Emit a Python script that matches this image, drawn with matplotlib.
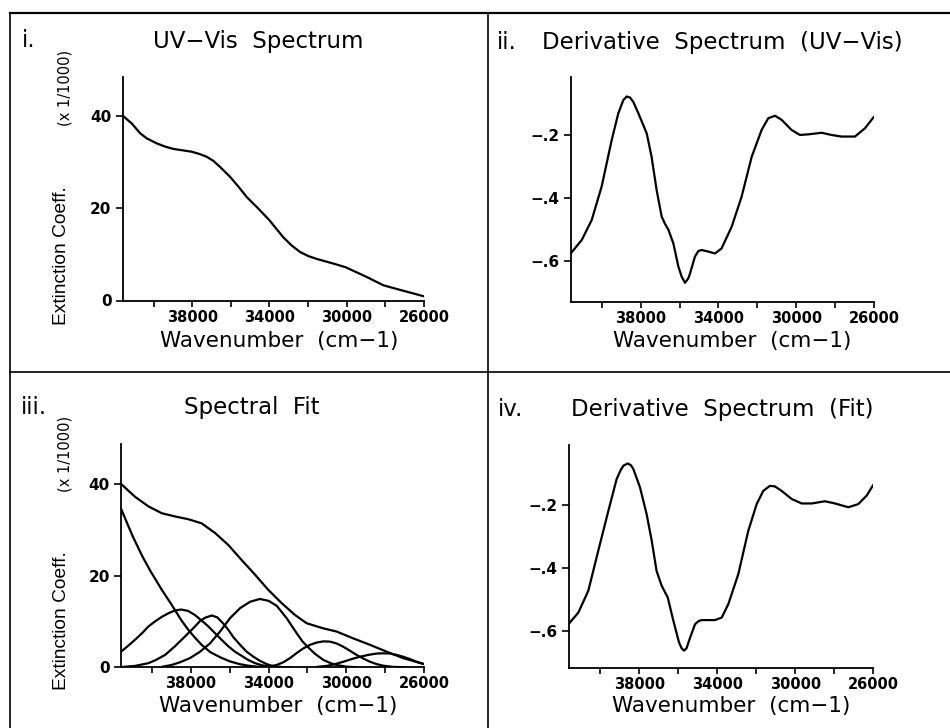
import matplotlib
matplotlib.use("Agg")
import matplotlib.pyplot as plt
from matplotlib.lines import Line2D
from matplotlib import font_manager as fm

# ---------------- data ----------------
# Panel i: UV-Vis spectrum (extinction coeff. x 1/1000)
uv_wn = [41600, 41130, 40700, 40360, 39840, 39400, 38980, 38500, 38030, 37620,
         37250, 36900, 36560, 36050, 35600, 35180, 34580, 34010, 33290, 32850,
         32420, 31980, 31560, 30700, 30060, 28970, 28110, 27240, 26000]
uv_eps = [40.0, 38.3, 36.2, 35.1, 34.0, 33.3, 32.8, 32.5, 32.2, 31.7,
          31.1, 30.2, 28.9, 26.8, 24.6, 22.4, 19.9, 17.4, 13.7, 11.9,
          10.5, 9.6, 9.0, 8.0, 7.2, 5.1, 3.3, 2.3, 0.9]

# Panel ii: derivative spectrum of UV-Vis
duv_wn = [41600, 41030, 40520, 40010, 39490, 39150, 38890, 38720, 38550, 38380,
          38120, 37690, 37440, 37180, 36920, 36750, 36580, 36320, 36060, 35890,
          35720, 35550, 35460, 35210, 35030, 34860, 34520, 34180, 33840, 33320,
          32810, 32290, 31780, 31440, 31090, 30750, 30240, 29810, 29380, 28690,
          28180, 27670, 26980, 26470, 26000]
duv_val = [-0.576, -0.533, -0.470, -0.364, -0.216, -0.131, -0.089, -0.078, -0.081, -0.095,
           -0.131, -0.195, -0.269, -0.375, -0.459, -0.482, -0.500, -0.544, -0.618, -0.650,
           -0.669, -0.655, -0.639, -0.586, -0.568, -0.565, -0.570, -0.576, -0.560, -0.491,
           -0.396, -0.269, -0.184, -0.147, -0.139, -0.152, -0.184, -0.200, -0.198, -0.193,
           -0.200, -0.205, -0.205, -0.179, -0.142]

# Panel iii: spectral fit (total) and gaussian components
fit_wn = [41600, 40880, 40190, 39500, 38820, 38140, 37450, 36760, 36080, 35390,
          34700, 34020, 33330, 32640, 32040, 31190, 30500, 29640, 28780, 27920,
          27070, 26000]
fit_total = [40.0, 37.2, 35.1, 33.6, 32.9, 32.3, 31.4, 29.3, 26.7, 23.4,
             20.2, 16.9, 14.0, 11.4, 9.6, 8.5, 7.8, 6.3, 4.9, 3.4,
             2.0, 0.7]

c1_wn = [41600, 41000, 40500, 40100, 39500, 39000, 38500, 38140, 37800, 37450,
         37000, 36500, 36000, 35500, 35050, 34500, 34000]
c1_val = [34.6, 28.6, 24.2, 21.1, 16.9, 13.7, 10.3, 8.2, 6.5, 4.9,
          3.3, 2.2, 1.3, 0.7, 0.35, 0.1, 0.0]

c2_wn = [41600, 41200, 40880, 40500, 40190, 39850, 39500, 39150, 38820, 38500,
         38150, 37790, 37450, 37100, 36750, 36420, 36080, 35730, 35390, 35050,
         34700, 34350, 33800, 33300]
c2_val = [3.4, 4.8, 6.0, 7.5, 8.9, 10.0, 11.0, 11.8, 12.4, 12.6,
          12.3, 11.4, 10.2, 8.9, 7.4, 6.0, 4.6, 3.4, 2.5, 1.6,
          0.9, 0.45, 0.1, 0.0]

c3_wn = [41600, 40880, 40190, 39800, 39330, 38820, 38480, 38050, 37790, 37530,
         37275, 36930, 36650, 36370, 36080, 35820, 35470, 35130, 34780, 34440,
         34100, 33840, 33300, 32800]
c3_val = [0.05, 0.3, 0.9, 1.6, 2.7, 4.6, 6.0, 7.8, 8.9, 10.1,
          10.8, 11.3, 10.9, 9.7, 8.2, 6.6, 4.9, 3.4, 2.3, 1.4,
          0.7, 0.35, 0.05, 0.0]

c4_wn = [39500, 39000, 38560, 38050, 37530, 37020, 36500, 35990, 35470, 34950,
         34450, 34000, 33580, 33070, 32550, 32250, 31950, 31600, 31180, 30800,
         30500, 30000, 29500]
c4_val = [0.1, 0.5, 1.1, 2.0, 3.4, 5.2, 7.8, 10.7, 12.9, 14.3,
          14.9, 14.5, 13.4, 10.7, 7.4, 5.6, 4.3, 2.9, 1.6, 0.9,
          0.5, 0.15, 0.0]

c5_wn = [34000, 33590, 33240, 32900, 32560, 32220, 31870, 31530, 31180, 30840,
         30500, 30160, 29810, 29470, 29120, 28780, 28440, 28100, 27600, 27000]
c5_val = [0.1, 0.5, 1.1, 2.0, 3.1, 4.1, 4.9, 5.4, 5.65, 5.6,
          5.2, 4.5, 3.6, 2.7, 1.9, 1.2, 0.7, 0.35, 0.1, 0.0]

c6_wn = [31500, 31010, 30580, 30160, 29720, 29300, 28870, 28440, 28100, 27750,
         27410, 27070, 26720, 26380, 26000]
c6_val = [0.1, 0.3, 0.7, 1.2, 1.8, 2.3, 2.7, 3.0, 3.05, 3.0,
          2.7, 2.3, 1.8, 1.2, 0.7]

components = [(c1_wn, c1_val), (c2_wn, c2_val), (c3_wn, c3_val),
              (c4_wn, c4_val), (c5_wn, c5_val), (c6_wn, c6_val)]

# Panel iv: derivative spectrum of fit
dfit_wn = [41600, 41120, 40610, 40100, 39580, 39160, 38950, 38810, 38590, 38420,
           38300, 37960, 37620, 37360, 37110, 36850, 36540, 36250, 35960, 35820,
           35700, 35570, 35450, 35140, 34950, 34800, 34460, 34120, 33770, 33430,
           32920, 32410, 31980, 31640, 31300, 31040, 30700, 30180, 29670, 29160,
           28480, 27960, 27280, 26770, 26340, 26000]
dfit_val = [-0.577, -0.542, -0.473, -0.346, -0.219, -0.119, -0.090, -0.076, -0.069, -0.075,
            -0.087, -0.145, -0.230, -0.314, -0.410, -0.457, -0.494, -0.568, -0.637, -0.656,
            -0.663, -0.655, -0.632, -0.579, -0.569, -0.566, -0.566, -0.566, -0.558, -0.515,
            -0.420, -0.283, -0.198, -0.156, -0.140, -0.142, -0.156, -0.182, -0.196, -0.196,
            -0.189, -0.196, -0.208, -0.198, -0.171, -0.137]

x_ticks = [40000, 38000, 36000, 34000, 32000, 30000, 28000, 26000]
x_ticklabels = ['', '38000', '', '34000', '', '30000', '', '26000']
eps_ticks = [0, 20, 40]
eps_ticklabels = ['0', '20', '40']
der_ticks = [-0.6, -0.4, -0.2]
der_ticklabels = ['\u2212.6', '\u2212.4', '\u2212.2']

# ---------------- figure ----------------
W, H = 950, 728
fig = plt.figure(figsize=(W / 100, H / 100), dpi=100)
fig.patch.set_facecolor('white')


def px_axes(left, top, right, bottom):
    return fig.add_axes([left / W, 1 - bottom / H, (right - left) / W, (bottom - top) / H])


def ftext(x, y, s, **kw):
    fig.text(x / W, 1 - y / H, s, **kw)


def style(ax, yticks, yticklabels, ylim):
    ax.set_xlim(41600, 26000)
    ax.set_ylim(*ylim)
    for side in ('top', 'right'):
        ax.spines[side].set_visible(False)
    for side in ('left', 'bottom'):
        ax.spines[side].set_linewidth(1.3)
    ax.set_xticks(x_ticks)
    ax.set_xticklabels(x_ticklabels)
    ax.set_yticks(yticks)
    ax.set_yticklabels(yticklabels)
    ax.tick_params(axis='x', direction='out', length=4, width=1.2, pad=2.5, labelsize=10.5)
    ax.tick_params(axis='y', direction='out', length=5, width=1.2, pad=3, labelsize=11)
    for lbl in ax.get_xticklabels() + ax.get_yticklabels():
        lbl.set_fontweight('bold')
    ax.set_facecolor('none')


line_kw = dict(color='black', lw=1.6, solid_joinstyle='round', solid_capstyle='round')

ax1 = px_axes(122.7, 77.3, 424, 300.5)
ax1.plot(uv_wn, uv_eps, **line_kw)
style(ax1, eps_ticks, eps_ticklabels, (0, 48.3))

ax2 = px_axes(570.7, 77.3, 874, 301.7)
ax2.plot(duv_wn, duv_val, **line_kw)
style(ax2, der_ticks, der_ticklabels, (-0.729, -0.017))

ax3 = px_axes(121, 444, 424, 667.3)
ax3.plot(fit_wn, fit_total, **line_kw)
for cw, cv in components:
    ax3.plot(cw, cv, **line_kw)
style(ax3, eps_ticks, eps_ticklabels, (0, 48.7))

ax4 = px_axes(569, 445, 873.3, 668)
ax4.plot(dfit_wn, dfit_val, **line_kw)
style(ax4, der_ticks, der_ticklabels, (-0.718, -0.0105))

# ---------------- texts ----------------
tfs = 16.5
ftext(21.7, 47, 'i.', fontsize=tfs, va='baseline', ha='left')
ftext(258, 48, 'UV\u2212Vis  Spectrum', fontsize=tfs, va='baseline', ha='center')
ftext(496.7, 49, 'ii.', fontsize=tfs, va='baseline', ha='left')
ftext(722, 49, 'Derivative  Spectrum  (UV\u2212Vis)', fontsize=tfs, va='baseline', ha='center')
ftext(20.7, 414, 'iii.', fontsize=tfs, va='baseline', ha='left')
ftext(252, 414, 'Spectral  Fit', fontsize=tfs, va='baseline', ha='center')
ftext(498, 415.7, 'iv.', fontsize=tfs, va='baseline', ha='left')
ftext(722, 415.7, 'Derivative  Spectrum  (Fit)', fontsize=tfs, va='baseline', ha='center')

xfs = 15.5
xlab = 'Wavenumber  (cm\u22121)'
ftext(279, 347, xlab, fontsize=xfs, va='baseline', ha='center')
ftext(731.7, 346.5, xlab, fontsize=xfs, va='baseline', ha='center')
ftext(278, 712, xlab, fontsize=xfs, va='baseline', ha='center')
ftext(731, 712, xlab, fontsize=xfs, va='baseline', ha='center')

names = {f.name for f in fm.fontManager.ttflist}
if 'Liberation Sans Narrow' in names:
    yfam, yfs = 'Liberation Sans Narrow', 16.5
else:
    yfam, yfs = 'Liberation Sans', 13.8
for yc_big, yc_small in ((256, 88), (621, 454)):
    ftext(70.5, yc_big, 'Extinction Coeff.', family=[yfam, 'DejaVu Sans'], fontsize=yfs,
          rotation=90, ha='right', va='center')
    ftext(72, yc_small, '(x 1/1000)', fontsize=10.5, rotation=90, ha='right', va='center')

# ---------------- panel frame lines ----------------
frame_kw = dict(color='black', lw=1.2, transform=fig.transFigure)
fig.add_artist(Line2D([9.5 / W, 9.5 / W], [1 - 13 / H, 0], **frame_kw))
fig.add_artist(Line2D([9.5 / W, 1], [1 - 13 / H, 1 - 13 / H], lw=1.6, color='black',
                      transform=fig.transFigure))
fig.add_artist(Line2D([9.5 / W, 1], [1 - 372 / H, 1 - 372 / H], **frame_kw))
fig.add_artist(Line2D([488 / W, 488 / W], [1 - 13 / H, 0], **frame_kw))

fig.savefig('out.png', dpi=100, facecolor='white')
